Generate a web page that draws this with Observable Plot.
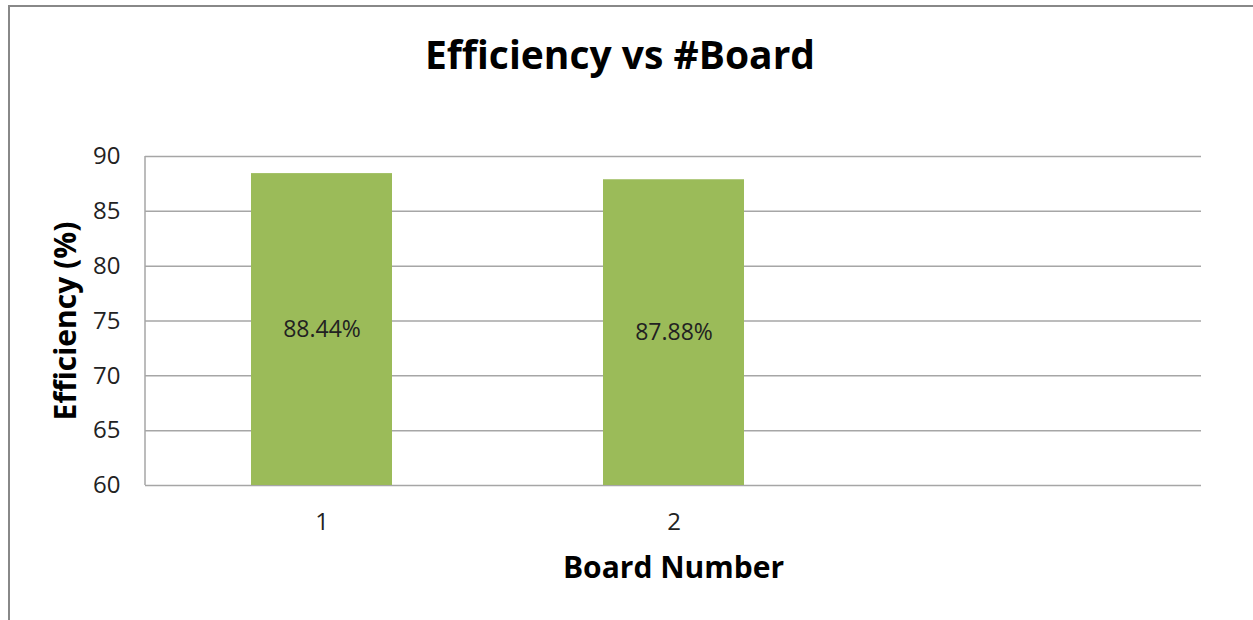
<!DOCTYPE html>
<html>
<head>
<meta charset="utf-8">
<script src="https://cdn.jsdelivr.net/npm/d3@7"></script>
<script src="https://cdn.jsdelivr.net/npm/@observablehq/plot@0.6"></script>
<style>
  html, body { margin: 0; padding: 0; background: #fff; }
  body { width: 1253px; height: 620px; overflow: hidden; position: relative; font-family: "Open Sans", sans-serif; }
  #frame { position: absolute; left: 8px; top: 5px; width: 1400px; height: 800px; border: 2px solid #888; box-sizing: border-box; }
  #title { position: absolute; left: 0; top: 25px; width: 1240px; text-align: center; font-size: 39px; font-weight: bold; color: #000; line-height: 58px; }
  #chart { position: absolute; left: 0; top: 100px; }
</style>
</head>
<body>
<div id="frame"></div>
<div id="title">Efficiency vs #Board</div>
<div id="chart"></div>
<script>
const categories = ["1", "2", ""];
const boards = ["1", "2"];
const efficiency = [88.44, 87.88];
const yTicks = [60, 65, 70, 75, 80, 85, 90];
const yDomain = [60, 90];
const xLabel = "Board Number";
const yLabel = "Efficiency (%)";

const data = boards.map((b, i) => ({board: b, eff: efficiency[i]}));

const leftAxisLine = (index, scales, values, dims) => {
  const ns = "http://www.w3.org/2000/svg";
  const line = document.createElementNS(ns, "line");
  const x = dims.marginLeft;
  line.setAttribute("x1", x);
  line.setAttribute("x2", x);
  line.setAttribute("y1", scales.y(yDomain[0]));
  line.setAttribute("y2", scales.y(yDomain[1]));
  line.setAttribute("stroke", "#a6a6a6");
  line.setAttribute("stroke-width", 1.5);
  return line;
};

const chart = Plot.plot({
  width: 1253,
  height: 520,
  marginTop: 56,
  marginLeft: 145,
  marginRight: 52,
  marginBottom: 135,
  style: {fontFamily: "Open Sans", fontSize: "24px", color: "#222", background: "transparent"},
  x: {type: "band", domain: categories, paddingInner: 0.6, paddingOuter: 0.3},
  y: {domain: yDomain},
  marks: [
    Plot.ruleY(yTicks, {stroke: "#a6a6a6", strokeWidth: 1.5}),
    leftAxisLine,
    Plot.barY(data, {x: "board", y1: yDomain[0], y2: "eff", fill: "#9BBB59"}),
    Plot.text(data, {x: "board", y: d => (yDomain[0] + d.eff) / 2, text: d => d.eff.toFixed(2) + "%", fontSize: 23, fill: "#222"}),
    Plot.axisY({ticks: yTicks, tickSize: 0, tickPadding: 25, label: null, fontSize: 24, fill: "#222"}),
    Plot.axisX({tickSize: 0, tickPadding: 27, label: null, fontSize: 24, fill: "#222"}),
    Plot.text([xLabel], {frameAnchor: "bottom", dy: 92, fontSize: 30, fontWeight: "bold", fill: "#000"}),
    Plot.text([yLabel], {frameAnchor: "left", textAnchor: "middle", rotate: -90, dx: -79, fontSize: 30, fontWeight: "bold", fill: "#000"})
  ]
});
document.getElementById("chart").appendChild(chart);
</script>
</body>
</html>
